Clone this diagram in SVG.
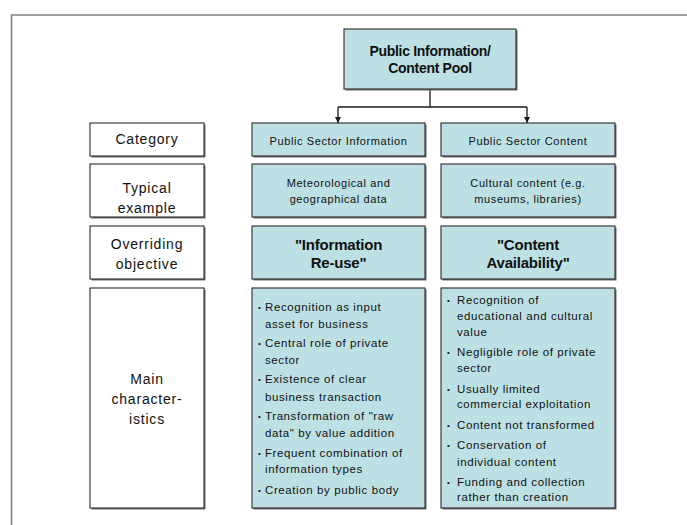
<svg xmlns="http://www.w3.org/2000/svg" width="687" height="525" viewBox="0 0 687 525">
<style>
.frame{fill:none;stroke:#7f7f7f;stroke-width:1.6}
.shadow{fill:#6e6e6e}
.blue{fill:#bce0e4;stroke:#2a2a2a;stroke-width:1.1}
.white{fill:#ffffff;stroke:#2a2a2a;stroke-width:1.1}
text{font-family:"Liberation Sans",Arial,sans-serif;fill:#111}
.lab{font-size:14px;letter-spacing:0.8px;text-anchor:middle}
.small{font-size:11px;letter-spacing:0.6px;text-anchor:middle}
.bold{font-size:15px;font-weight:bold;text-anchor:middle;letter-spacing:-0.2px}
.top{font-size:14px;font-weight:bold;text-anchor:middle;letter-spacing:-0.3px}
.bl{font-size:11.5px;letter-spacing:0.6px}
.dot{font-size:8px}
.conn{fill:none;stroke:#1a1a1a;stroke-width:1.3}
</style>
<defs>
<marker id="arr" viewBox="0 0 10 10" refX="10" refY="5" markerWidth="6" markerHeight="6" orient="auto" markerUnits="userSpaceOnUse">
<path d="M0,0 L10,5 L0,10 z" fill="#1a1a1a"/>
</marker>
</defs>
<rect width="687" height="525" fill="#ffffff"/>
<path class="frame" d="M11.5,530 L11.5,15 L690,15"/>

<g id="connectors">
<path class="conn" d="M430,89 L430,107"/>
<path class="conn" d="M338,107 L527,107"/>
<path class="conn" d="M338,107 L338,123" marker-end="url(#arr)"/>
<path class="conn" d="M527,107 L527,123" marker-end="url(#arr)"/>
</g>

<g id="pool">
<rect class="shadow" x="345.5" y="30.5" width="172" height="60"/>
<rect class="blue" x="344" y="29" width="172" height="60"/>
<text class="top" x="430" y="55.5">Public Information/</text>
<text class="top" x="430" y="73">Content Pool</text>
</g>

<g id="label-category">
<rect class="shadow" x="91.5" y="124.5" width="114" height="33"/>
<rect class="white" x="90" y="123" width="114" height="33"/>
<text class="lab" x="147" y="144">Category</text>
</g>
<g id="label-example">
<rect class="shadow" x="91.5" y="165.5" width="114" height="53"/>
<rect class="white" x="90" y="164" width="114" height="53"/>
<text class="lab" x="147" y="193">Typical</text>
<text class="lab" x="147" y="213">example</text>
</g>
<g id="label-objective">
<rect class="shadow" x="91.5" y="227.5" width="114" height="53"/>
<rect class="white" x="90" y="226" width="114" height="53"/>
<text class="lab" x="147" y="249">Overriding</text>
<text class="lab" x="147" y="269">objective</text>
</g>
<g id="label-characteristics">
<rect class="shadow" x="91.5" y="289.5" width="114" height="220"/>
<rect class="white" x="90" y="288" width="114" height="220"/>
<text class="lab" x="147" y="384">Main</text>
<text class="lab" x="147" y="404">character-</text>
<text class="lab" x="147" y="424">istics</text>
</g>

<g id="psi-category">
<rect class="shadow" x="253.5" y="124.5" width="173" height="33"/>
<rect class="blue" x="252" y="123" width="173" height="33"/>
<text class="small" x="338.5" y="144.5">Public Sector Information</text>
</g>
<g id="psi-example">
<rect class="shadow" x="253.5" y="165.5" width="173" height="53"/>
<rect class="blue" x="252" y="164" width="173" height="53"/>
<text class="small" x="338.5" y="187">Meteorological and</text>
<text class="small" x="338.5" y="203">geographical data</text>
</g>
<g id="psi-objective">
<rect class="shadow" x="253.5" y="227.5" width="173" height="53"/>
<rect class="blue" x="252" y="226" width="173" height="53"/>
<text class="bold" x="338.5" y="249.5">"Information</text>
<text class="bold" x="338.5" y="267.5">Re-use"</text>
</g>
<g id="psi-characteristics">
<rect class="shadow" x="253.5" y="289.5" width="173" height="220"/>
<rect class="blue" x="252" y="288" width="173" height="220"/>
<text class="dot" x="258" y="310">•</text>
<text class="bl" x="265" y="311">Recognition as input</text>
<text class="bl" x="265" y="328">asset for business</text>
<text class="dot" x="258" y="346">•</text>
<text class="bl" x="265" y="347">Central role of private</text>
<text class="bl" x="265" y="364">sector</text>
<text class="dot" x="258" y="382">•</text>
<text class="bl" x="265" y="383">Existence of clear</text>
<text class="bl" x="265" y="401">business transaction</text>
<text class="dot" x="258" y="419">•</text>
<text class="bl" x="265" y="420">Transformation of "raw</text>
<text class="bl" x="265" y="437">data" by value addition</text>
<text class="dot" x="258" y="456">•</text>
<text class="bl" x="265" y="457">Frequent combination of</text>
<text class="bl" x="265" y="473">information types</text>
<text class="dot" x="258" y="493">•</text>
<text class="bl" x="265" y="494">Creation by public body</text>
</g>

<g id="psc-category">
<rect class="shadow" x="442.5" y="124.5" width="174" height="33"/>
<rect class="blue" x="441" y="123" width="174" height="33"/>
<text class="small" x="528" y="144.5">Public Sector Content</text>
</g>
<g id="psc-example">
<rect class="shadow" x="442.5" y="165.5" width="174" height="53"/>
<rect class="blue" x="441" y="164" width="174" height="53"/>
<text class="small" x="528" y="187">Cultural content (e.g.</text>
<text class="small" x="528" y="203">museums, libraries)</text>
</g>
<g id="psc-objective">
<rect class="shadow" x="442.5" y="227.5" width="174" height="53"/>
<rect class="blue" x="441" y="226" width="174" height="53"/>
<text class="bold" x="528" y="249.5">"Content</text>
<text class="bold" x="528" y="267.5">Availability"</text>
</g>
<g id="psc-characteristics">
<rect class="shadow" x="442.5" y="289.5" width="174" height="220"/>
<rect class="blue" x="441" y="288" width="174" height="220"/>
<text class="dot" x="447" y="303">•</text>
<text class="bl" x="457" y="304">Recognition of</text>
<text class="bl" x="457" y="320">educational and cultural</text>
<text class="bl" x="457" y="336">value</text>
<text class="dot" x="447" y="355">•</text>
<text class="bl" x="457" y="356">Negligible role of private</text>
<text class="bl" x="457" y="372">sector</text>
<text class="dot" x="447" y="392">•</text>
<text class="bl" x="457" y="393">Usually limited</text>
<text class="bl" x="457" y="408">commercial exploitation</text>
<text class="dot" x="447" y="428">•</text>
<text class="bl" x="457" y="429">Content not transformed</text>
<text class="dot" x="447" y="448">•</text>
<text class="bl" x="457" y="449">Conservation of</text>
<text class="bl" x="457" y="466">individual content</text>
<text class="dot" x="447" y="485">•</text>
<text class="bl" x="457" y="486">Funding and collection</text>
<text class="bl" x="457" y="501">rather than creation</text>
</g>
</svg>
